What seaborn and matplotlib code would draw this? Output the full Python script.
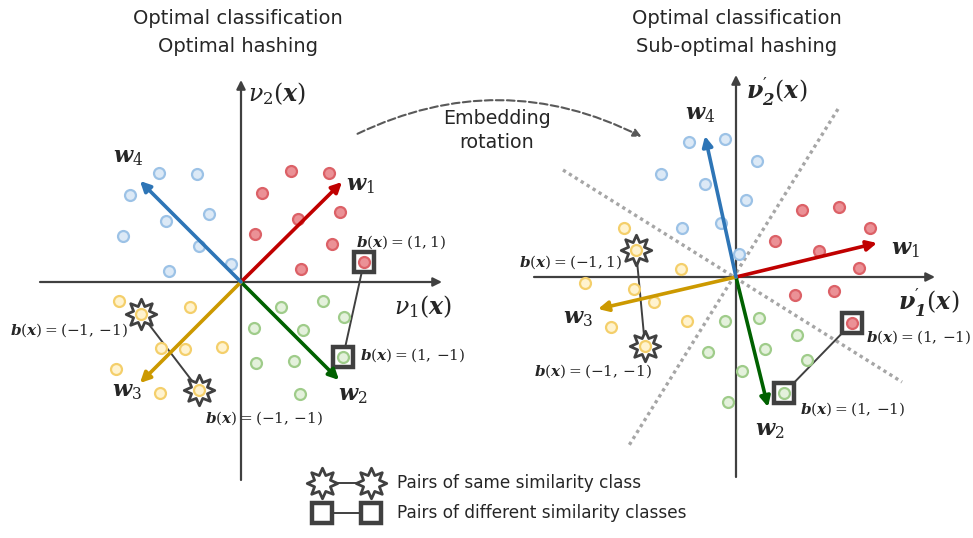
import numpy as np
import pandas as pd
import matplotlib
matplotlib.use("Agg")
import matplotlib.pyplot as plt
import seaborn as sns
from matplotlib.patches import FancyArrowPatch
from matplotlib.path import Path

sns.set_style("white")
plt.rcParams['font.family'] = ['DejaVu Sans']
plt.rcParams['mathtext.fontset'] = 'custom'
plt.rcParams['mathtext.rm'] = 'DejaVu Serif'
plt.rcParams['mathtext.it'] = 'DejaVu Serif:italic'
plt.rcParams['mathtext.bf'] = 'DejaVu Serif:bold:italic'

# Point clouds (pixel positions), left panel
L_RED = [(291, 171), (329, 173), (262, 193), (340, 212), (298, 219), (255, 234), (332, 244), (301, 269), (364, 262)]
L_GREEN = [(323, 301), (281, 307), (344, 317), (254, 328), (303, 330), (343, 357), (256, 363), (294, 361), (300, 394)]
L_YELLOW = [(119, 301), (190, 307), (141, 314), (161, 348), (185, 349), (222, 347), (116, 369), (160, 393), (199, 390)]
L_BLUE = [(159, 173), (197, 174), (130, 195), (209, 214), (166, 221), (123, 236), (199, 246), (231, 264), (169, 271)]

# Right panel (rotated embedding)
R_RED = [(802, 210), (839, 207), (870, 228), (775, 241), (819, 251), (859, 268), (795, 295), (834, 291), (852, 323)]
R_GREEN = [(725, 321), (759, 318), (797, 335), (765, 349), (807, 360), (708, 352), (742, 371), (784, 393), (728, 402)]
R_YELLOW = [(624, 228), (636, 250), (681, 269), (585, 283), (634, 289), (654, 302), (687, 321), (611, 327), (645, 346)]
R_BLUE = [(689, 142), (725, 139), (757, 161), (661, 174), (705, 184), (746, 200), (682, 228), (721, 223), (739, 254)]

# Classifier vectors: origin and tips
L_ORIGIN = (241, 282)
L_TIPS = {'w1': (342, 182), 'w2': (339, 380), 'w3': (140, 383), 'w4': (140, 181)}
R_ORIGIN = (736, 277)
R_TIPS = {'w1': (877, 243), 'w2': (768, 407), 'w3': (598, 309), 'w4': (705, 136)}

# Pairs (same class = star, different class = square)
L_STAR_PAIR = [(141, 314), (199, 390)]
L_BOX_PAIR = [(364, 262), (343, 357)]
R_STAR_PAIR = [(636, 250), (645, 346)]
R_BOX_PAIR = [(852, 323), (784, 393)]

# Hashing boundaries on the right
R_BOUNDS = [[(838, 109), (628, 447)], [(563, 170), (902, 382)]]

POINT_STYLE = {
    'red': ('#EB9196', '#DC6167'),
    'green': ('#E4F1DC', '#9FCC8A'),
    'yellow': ('#FFF3CF', '#F4CF6B'),
    'blue': ('#DCE9F6', '#9CC2E6'),
}
ARROW_COL = {'w1': '#C00000', 'w2': '#006100', 'w3': '#CC9900', 'w4': '#2E75B6'}
DARK = '#404040'

# 8-pointed star marker
ang = np.pi / 2 + np.arange(16) * np.pi / 8
rad = np.where(np.arange(16) % 2 == 0, 1.0, 0.56)
star_verts = np.column_stack([rad * np.cos(ang), rad * np.sin(ang)])
STAR = Path(np.vstack([star_verts, star_verts[:1]]), closed=True)

fig = plt.figure(figsize=(9.73, 5.38), dpi=100)
ax = fig.add_axes([0, 0, 1, 1])
ax.set_xlim(0, 973)
ax.set_ylim(538, 0)
ax.axis('off')


def axis_arrow(p0, p1):
    ax.annotate('', xy=p1, xytext=p0,
                arrowprops=dict(arrowstyle='-|>', color=DARK, lw=1.6,
                                mutation_scale=13, shrinkA=0, shrinkB=0),
                zorder=2)


# coordinate axes
axis_arrow((40, 282), (442, 282))
axis_arrow((241, 480), (241, 80))
axis_arrow((534, 277), (935, 277))
axis_arrow((736, 477), (736, 75))

# dotted hash boundaries
for (a, b) in R_BOUNDS:
    ax.plot([a[0], b[0]], [a[1], b[1]], color='#A6A6A6', lw=2.4,
            dashes=(1, 1.1), zorder=1)


def draw_points(groups):
    for name, pts in groups.items():
        face, edge = POINT_STYLE[name]
        df = pd.DataFrame(pts, columns=['x', 'y'])
        sns.scatterplot(data=df, x='x', y='y', color=face, edgecolor=edge,
                        s=62, linewidth=1.6, ax=ax, zorder=3, legend=False)


def pair_marks(xs, ys, kind):
    if kind == 'star':
        marker, size, lw = STAR, 22, 2.0
    else:
        marker, size, lw = 's', 14, 3.2
    ax.plot(xs, ys, color=DARK, lw=1.4, zorder=2.5)
    ax.plot(xs, ys, ls='none', marker=marker, ms=size, mfc='white',
            mec=DARK, mew=lw, zorder=2.7)


def draw_pairs(star_pair, box_pair):
    for pair, kind in [(star_pair, 'star'), (box_pair, 'box')]:
        pair_marks([p[0] for p in pair], [p[1] for p in pair], kind)


def draw_vectors(origin, tips):
    for k, tip in tips.items():
        ax.annotate('', xy=tip, xytext=origin,
                    arrowprops=dict(arrowstyle='-|>', color=ARROW_COL[k], lw=2.6,
                                    mutation_scale=15, shrinkA=0, shrinkB=0),
                    zorder=4)


draw_pairs(L_STAR_PAIR, L_BOX_PAIR)
draw_pairs(R_STAR_PAIR, R_BOX_PAIR)
draw_points({'red': L_RED, 'green': L_GREEN, 'yellow': L_YELLOW, 'blue': L_BLUE})
draw_points({'red': R_RED, 'green': R_GREEN, 'yellow': R_YELLOW, 'blue': R_BLUE})
draw_vectors(L_ORIGIN, L_TIPS)
draw_vectors(R_ORIGIN, R_TIPS)

# vector labels
wfs = 16
for k, pos in {'w1': (360, 186), 'w2': (353, 396), 'w3': (127, 392), 'w4': (128, 158)}.items():
    ax.text(*pos, r'$\mathbf{w}_{%s}$' % k[1], fontsize=wfs, ha='center', va='center')
for k, pos in {'w1': (905, 250), 'w2': (770, 431), 'w3': (578, 319), 'w4': (700, 115)}.items():
    ax.text(*pos, r'$\mathbf{w}_{%s}$' % k[1], fontsize=wfs, ha='center', va='center')

# axis labels
nfs = 17
ax.text(277, 94, r'$\nu_2(\mathbf{x})$', fontsize=nfs, ha='center', va='center')
ax.text(423, 307, r'$\nu_1(\mathbf{x})$', fontsize=nfs, ha='center', va='center')
ax.text(777, 92, r"$\mathbf{\nu}^{\prime}_{\mathbf{2}}(\mathbf{x})$", fontsize=nfs, ha='center', va='center')
ax.text(929, 303, r"$\mathbf{\nu}^{\prime}_{\mathbf{1}}(\mathbf{x})$", fontsize=nfs, ha='center', va='center')

# code labels
bfs = 11
b_labels = [
    ((356, 242), r'$\mathbf{b}(\mathbf{x}) = (1,1)$'),
    ((10, 330), r'$\mathbf{b}(\mathbf{x}) = ({-}1,\,{-}1)$'),
    ((360, 355), r'$\mathbf{b}(\mathbf{x}) = (1,\,{-}1)$'),
    ((205, 418), r'$\mathbf{b}(\mathbf{x}) = ({-}1,\,{-}1)$'),
    ((519, 262), r'$\mathbf{b}(\mathbf{x}) = ({-}1,1)$'),
    ((866, 337), r'$\mathbf{b}(\mathbf{x}) = (1,\,{-}1)$'),
    ((534, 371), r'$\mathbf{b}(\mathbf{x}) = ({-}1,\,{-}1)$'),
    ((800, 409), r'$\mathbf{b}(\mathbf{x}) = (1,\,{-}1)$'),
]
for pos, s in b_labels:
    ax.text(*pos, s, fontsize=bfs, ha='left', va='center', zorder=5)

# titles
tfs = 14
ax.text(238, 19, 'Optimal classification', fontsize=tfs, ha='center', va='center')
ax.text(238, 46, 'Optimal hashing', fontsize=tfs, ha='center', va='center')
ax.text(737, 19, 'Optimal classification', fontsize=tfs, ha='center', va='center')
ax.text(737, 46, 'Sub-optimal hashing', fontsize=tfs, ha='center', va='center')

# rotation arc
arc = FancyArrowPatch((355, 135), (644, 138), connectionstyle='arc3,rad=-0.25',
                      arrowstyle='-|>', mutation_scale=12, color='#595959',
                      lw=1.5, linestyle='--')
ax.add_patch(arc)
ax.text(497, 118, 'Embedding', fontsize=13.7, ha='center', va='center')
ax.text(497, 143, 'rotation', fontsize=13.7, ha='center', va='center')

# legend
for y, kind, label in [(483, 'star', 'Pairs of same similarity class'),
                       (513, 'box', 'Pairs of different similarity classes')]:
    pair_marks([322, 371], [y, y], kind)
    ax.text(397, y, label, fontsize=12.2, ha='left', va='center')

fig.savefig('out.png', dpi=100)
